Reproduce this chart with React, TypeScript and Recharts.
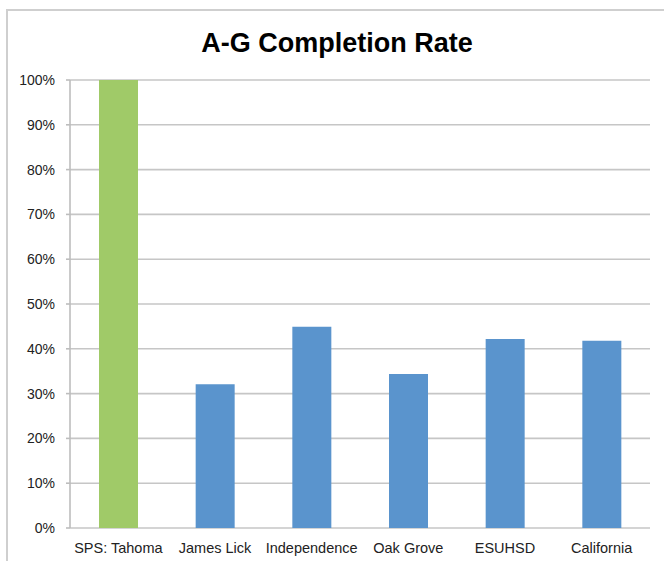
import React from 'react';
import { BarChart, Bar, XAxis, YAxis, CartesianGrid, Cell } from 'recharts';

const schools = ['SPS: Tahoma', 'James Lick', 'Independence', 'Oak Grove', 'ESUHSD', 'California'];
const rates = [1.0, 0.321, 0.449, 0.344, 0.422, 0.418];
const barColors = ['#A0CA68', '#5A94CD', '#5A94CD', '#5A94CD', '#5A94CD', '#5A94CD'];
const yTicks = [0, 0.1, 0.2, 0.3, 0.4, 0.5, 0.6, 0.7, 0.8, 0.9, 1.0];
const edgeTicks = [0, 1, 2, 3, 4, 5, 6];

const data = schools.map((name, i) => ({ name, value: rates[i] }));

const font = 'Arial, "Liberation Sans", Helvetica, sans-serif';
const gray = '#bdbdbd';

export default function App() {
  return (
    <div
      style={{
        position: 'absolute',
        left: 0,
        top: 0,
        width: 664,
        height: 561,
        background: '#fff',
        overflow: 'hidden',
        fontFamily: font,
      }}
    >
      <div
        style={{
          position: 'absolute',
          left: 6,
          top: 9,
          width: 700,
          height: 600,
          borderLeft: '2px solid #cfcfcf',
          borderTop: '2px solid #cfcfcf',
        }}
      />
      <div
        style={{
          position: 'absolute',
          left: 0,
          top: 30,
          width: 674,
          textAlign: 'center',
          fontSize: 27,
          lineHeight: '27px',
          fontWeight: 'bold',
          color: '#000',
        }}
      >
        A-G Completion Rate
      </div>
      <div style={{ position: 'absolute', left: 0, top: 0 }}>
        <BarChart
          width={664}
          height={561}
          data={data}
          margin={{ top: 80, right: 14, left: 10, bottom: 3 }}
        >
          <CartesianGrid vertical={false} stroke="#c6c6c6" strokeWidth={1.6} />
          <XAxis
            xAxisId="edges"
            type="number"
            domain={[0, 6]}
            ticks={edgeTicks}
            allowDataOverflow
            height={0}
            tickSize={4}
            tickFormatter={() => ''}
            stroke={gray}
            axisLine={{ stroke: gray, strokeWidth: 1.6 }}
            tickLine={{ stroke: gray, strokeWidth: 1.6 }}
          />
          <XAxis
            dataKey="name"
            height={30}
            axisLine={false}
            tickLine={false}
            tickMargin={9}
            interval={0}
            tick={{ fontSize: 14.5, fill: '#222', fontFamily: font }}
          />
          <YAxis
            width={60}
            domain={[0, 1]}
            ticks={yTicks}
            interval={0}
            tickSize={4}
            tickMargin={11}
            tickFormatter={(v: number) => `${Math.round(v * 100)}%`}
            axisLine={{ stroke: gray, strokeWidth: 1.6 }}
            tickLine={{ stroke: gray, strokeWidth: 1.6 }}
            tick={{ fontSize: 14, fill: '#222', fontFamily: font }}
          />
          <Bar dataKey="value" barSize={39} isAnimationActive={false}>
            {data.map((_, i) => (
              <Cell key={`cell-${i}`} fill={barColors[i]} />
            ))}
          </Bar>
        </BarChart>
      </div>
    </div>
  );
}
